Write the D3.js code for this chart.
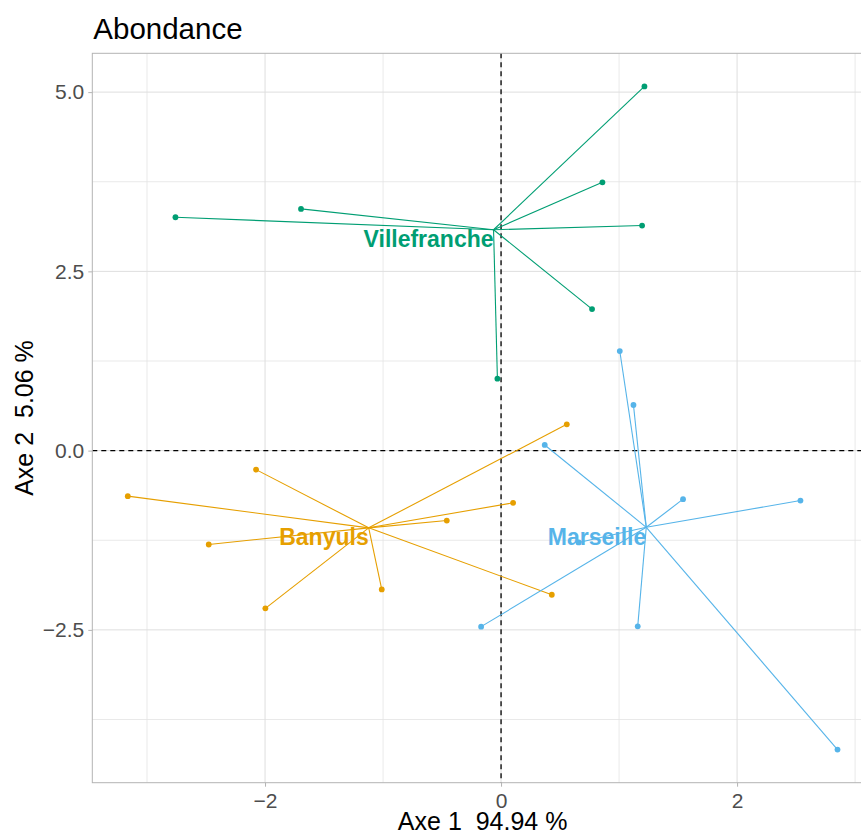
<!DOCTYPE html>
<html>
<head>
<meta charset="utf-8">
<script src="https://cdn.jsdelivr.net/npm/d3@7"></script>
<style>
  html, body { margin: 0; padding: 0; background: #fff; }
  svg { display: block; font-family: "Liberation Sans", Arial, sans-serif; }
</style>
</head>
<body>
<svg id="chart" width="861" height="833"></svg>
<script>
// Site scores on the first two axes, one array per site
const sites = ["Villefranche", "Banyuls", "Marseille"];
const siteColors = ["#009E73", "#E69F00", "#56B4E9"];

const villefrancheX = [-2.759, -1.695, -0.031, 1.215, 0.859, 1.195, 0.771];
const villefrancheY = [3.255, 3.371, 1.003, 5.079, 3.742, 3.139, 1.974];

const banyulsX = [-2.076, -3.163, -2.477, -1.997, -1.011, -0.460, 0.102, 0.557, 0.430];
const banyulsY = [-0.265, -0.635, -1.309, -2.200, -1.936, -0.975, -0.728, 0.367, -2.010];

const marseilleX = [1.006, 1.122, 0.370, 1.542, 2.537, 0.658, -0.169, 1.158, 2.851];
const marseilleY = [1.389, 0.636, 0.079, -0.677, -0.696, -1.281, -2.455, -2.451, -4.169];

const xTicks = [-2, 0, 2];
const xMinor = [-3, -1, 1, 3];
const yTicks = [-2.5, 0, 2.5, 5.0];
const yTickLabels = ["\u22122.5", "0.0", "2.5", "5.0"];
const yMinor = [-3.75, -1.25, 1.25, 3.75];

const chartTitle = "Abondance";
const xTitle = "Axe 1  94.94 %";
const yTitle = "Axe 2  5.06 %";

const groups = [
  { name: sites[0], color: siteColors[0], xs: villefrancheX, ys: villefrancheY },
  { name: sites[1], color: siteColors[1], xs: banyulsX, ys: banyulsY },
  { name: sites[2], color: siteColors[2], xs: marseilleX, ys: marseilleY }
].map(g => {
  const pts = g.xs.map((x, i) => ({ x, y: g.ys[i] }));
  return { ...g, pts, cx: d3.mean(g.xs), cy: d3.mean(g.ys) };
});

// Panel geometry
const panel = { left: 92.3, top: 53.3, right: 873, bottom: 782.7 };

// Limits: data extent with 5% padding on each side
const allX = groups.flatMap(g => g.xs);
const allY = groups.flatMap(g => g.ys);
function padded(ext) {
  const d = (ext[1] - ext[0]) * 0.05;
  return [ext[0] - d, ext[1] + d];
}
const x = d3.scaleLinear().domain(padded(d3.extent(allX))).range([panel.left, panel.right]);
const y = d3.scaleLinear().domain(padded(d3.extent(allY))).range([panel.bottom, panel.top]);

const svg = d3.select("#chart");
const plot = svg.append("g");

// Grid
const grid = plot.append("g");
grid.selectAll("line.xminor").data(xMinor).join("line")
  .attr("x1", d => x(d)).attr("x2", d => x(d))
  .attr("y1", panel.top).attr("y2", panel.bottom)
  .attr("stroke", "#E3E3E3").attr("stroke-width", 0.8);
grid.selectAll("line.yminor").data(yMinor).join("line")
  .attr("y1", d => y(d)).attr("y2", d => y(d))
  .attr("x1", panel.left).attr("x2", panel.right)
  .attr("stroke", "#E3E3E3").attr("stroke-width", 0.8);
grid.selectAll("line.xmajor").data(xTicks).join("line")
  .attr("x1", d => x(d)).attr("x2", d => x(d))
  .attr("y1", panel.top).attr("y2", panel.bottom)
  .attr("stroke", "#DEDEDE").attr("stroke-width", 1);
grid.selectAll("line.ymajor").data(yTicks).join("line")
  .attr("y1", d => y(d)).attr("y2", d => y(d))
  .attr("x1", panel.left).attr("x2", panel.right)
  .attr("stroke", "#DEDEDE").attr("stroke-width", 1);

// Reference lines through the origin
plot.append("line")
  .attr("x1", panel.left).attr("x2", panel.right)
  .attr("y1", y(0)).attr("y2", y(0))
  .attr("stroke", "#000").attr("stroke-width", 1.3).attr("stroke-dasharray", "5,4");
plot.append("line")
  .attr("x1", x(0)).attr("x2", x(0))
  .attr("y1", panel.top).attr("y2", panel.bottom)
  .attr("stroke", "#000").attr("stroke-width", 1.3).attr("stroke-dasharray", "5,4");

// Stars: each sample linked to its site's centroid
const stars = plot.append("g");
groups.forEach(g => {
  const gg = stars.append("g");
  gg.selectAll("line").data(g.pts).join("line")
    .attr("x1", x(g.cx)).attr("y1", y(g.cy))
    .attr("x2", d => x(d.x)).attr("y2", d => y(d.y))
    .attr("stroke", g.color).attr("stroke-width", 1.1);
  gg.selectAll("circle").data(g.pts).join("circle")
    .attr("cx", d => x(d.x)).attr("cy", d => y(d.y))
    .attr("r", 2.9).attr("fill", g.color);
});

// Site labels, anchored top-right at the centroid
plot.append("g").selectAll("text").data(groups).join("text")
  .attr("x", d => x(d.cx))
  .attr("y", d => y(d.cy) + 17.4)
  .attr("text-anchor", "end")
  .attr("font-size", 23)
  .attr("font-weight", "bold")
  .attr("fill", d => d.color)
  .text(d => d.name);

// Panel border
plot.append("rect")
  .attr("x", panel.left).attr("y", panel.top)
  .attr("width", panel.right - panel.left).attr("height", panel.bottom - panel.top)
  .attr("fill", "none").attr("stroke", "#B3B3B3").attr("stroke-width", 1);

// Axes
const xAxis = d3.axisBottom(x).tickValues(xTicks).tickSize(4).tickPadding(6)
  .tickFormat(d => d3.format("d")(d).replace("-", "\u2212"));
const gx = svg.append("g").attr("transform", `translate(0,${panel.bottom})`).call(xAxis);
const yAxis = d3.axisLeft(y).tickValues(yTicks).tickSize(4).tickPadding(4)
  .tickFormat((d, i) => yTickLabels[i]);
const gy = svg.append("g").attr("transform", `translate(${panel.left},0)`).call(yAxis);
[gx, gy].forEach(g => {
  g.select(".domain").remove();
  g.selectAll(".tick line").attr("stroke", "#B3B3B3").attr("stroke-width", 1);
  g.selectAll(".tick text").attr("fill", "#4D4D4D").attr("font-size", 21)
    .attr("font-family", "Liberation Sans, Arial, sans-serif");
});

// Titles
svg.append("text")
  .attr("x", panel.left + 1).attr("y", 38.5)
  .attr("font-size", 29.5).attr("fill", "#000")
  .text(chartTitle);
svg.append("text")
  .attr("x", (panel.left + panel.right) / 2).attr("y", 830)
  .attr("text-anchor", "middle").attr("font-size", 25).attr("fill", "#000")
  .style("white-space", "pre")
  .text(xTitle);
svg.append("text")
  .attr("transform", `translate(33,${(panel.top + panel.bottom) / 2}) rotate(-90)`)
  .attr("text-anchor", "middle").attr("font-size", 25).attr("fill", "#000")
  .style("white-space", "pre")
  .text(yTitle);
</script>
</body>
</html>
